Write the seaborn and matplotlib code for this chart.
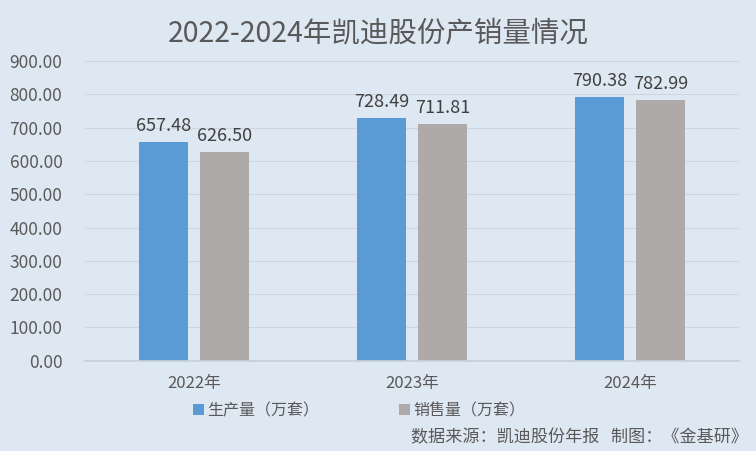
import pandas as pd
import matplotlib
matplotlib.use("Agg")
import matplotlib.pyplot as plt
import seaborn as sns
from matplotlib.patches import Patch

years = ["2022年", "2023年", "2024年"]
production = [657.48, 728.49, 790.38]
sales = [626.50, 711.81, 782.99]
series_names = ["生产量（万套）", "销售量（万套）"]
yticks = [0, 100, 200, 300, 400, 500, 600, 700, 800, 900]

df = pd.DataFrame({
    "year": years * 2,
    "value": production + sales,
    "series": [series_names[0]] * 3 + [series_names[1]] * 3,
})

bg = "#dee8f3"
colors = ["#5b9bd5", "#aeaaaa"]
text_color = "#595959"

sns.set_theme(style="white")
plt.rcParams["font.family"] = ["Noto Sans CJK SC", "DejaVu Sans"]

fig = plt.figure(figsize=(7.56, 4.51), dpi=100, facecolor=bg)
ax = fig.add_axes([0.112, 0.2, 0.866, 0.665], facecolor=bg)

sns.barplot(data=df, x="year", y="value", hue="series", palette=colors,
            width=0.56, gap=0.2, saturation=1, legend=False, linewidth=0, ax=ax)

for container in ax.containers:
    ax.bar_label(container, fmt="%.2f", padding=5, fontsize=13, color="#404040")

ax.set_ylim(0, 900)
ax.set_yticks(yticks)
ax.set_yticklabels([f"{v:.2f}" for v in yticks])
ax.grid(axis="y", color="#cdd6e0", linewidth=0.8)
ax.set_axisbelow(True)
for s in ["top", "right", "left"]:
    ax.spines[s].set_visible(False)
ax.spines["bottom"].set_color("#c8d0da")
ax.tick_params(axis="both", length=0, colors=text_color)
ax.tick_params(axis="y", labelsize=12.5, pad=16)
ax.tick_params(axis="x", labelsize=12, pad=10)
ax.set_xlabel("")
ax.set_ylabel("")

fig.text(0.5, 0.925, "2022-2024年凯迪股份产销量情况", ha="center", va="center",
         fontsize=20.5, color=text_color)

handles = [Patch(facecolor=c, edgecolor="none") for c in colors]
fig.legend(handles, series_names, loc="center", bbox_to_anchor=(0.475, 0.089),
           ncol=2, frameon=False, fontsize=11.5, handlelength=0.7, handleheight=0.7,
           handletextpad=0.2, columnspacing=5.0, labelcolor=text_color)

fig.text(0.99, 0.03, "数据来源：凯迪股份年报   制图：《金基研》", ha="right", va="center",
         fontsize=12.3, color=text_color)

fig.savefig("out.png", dpi=100, facecolor=bg)
